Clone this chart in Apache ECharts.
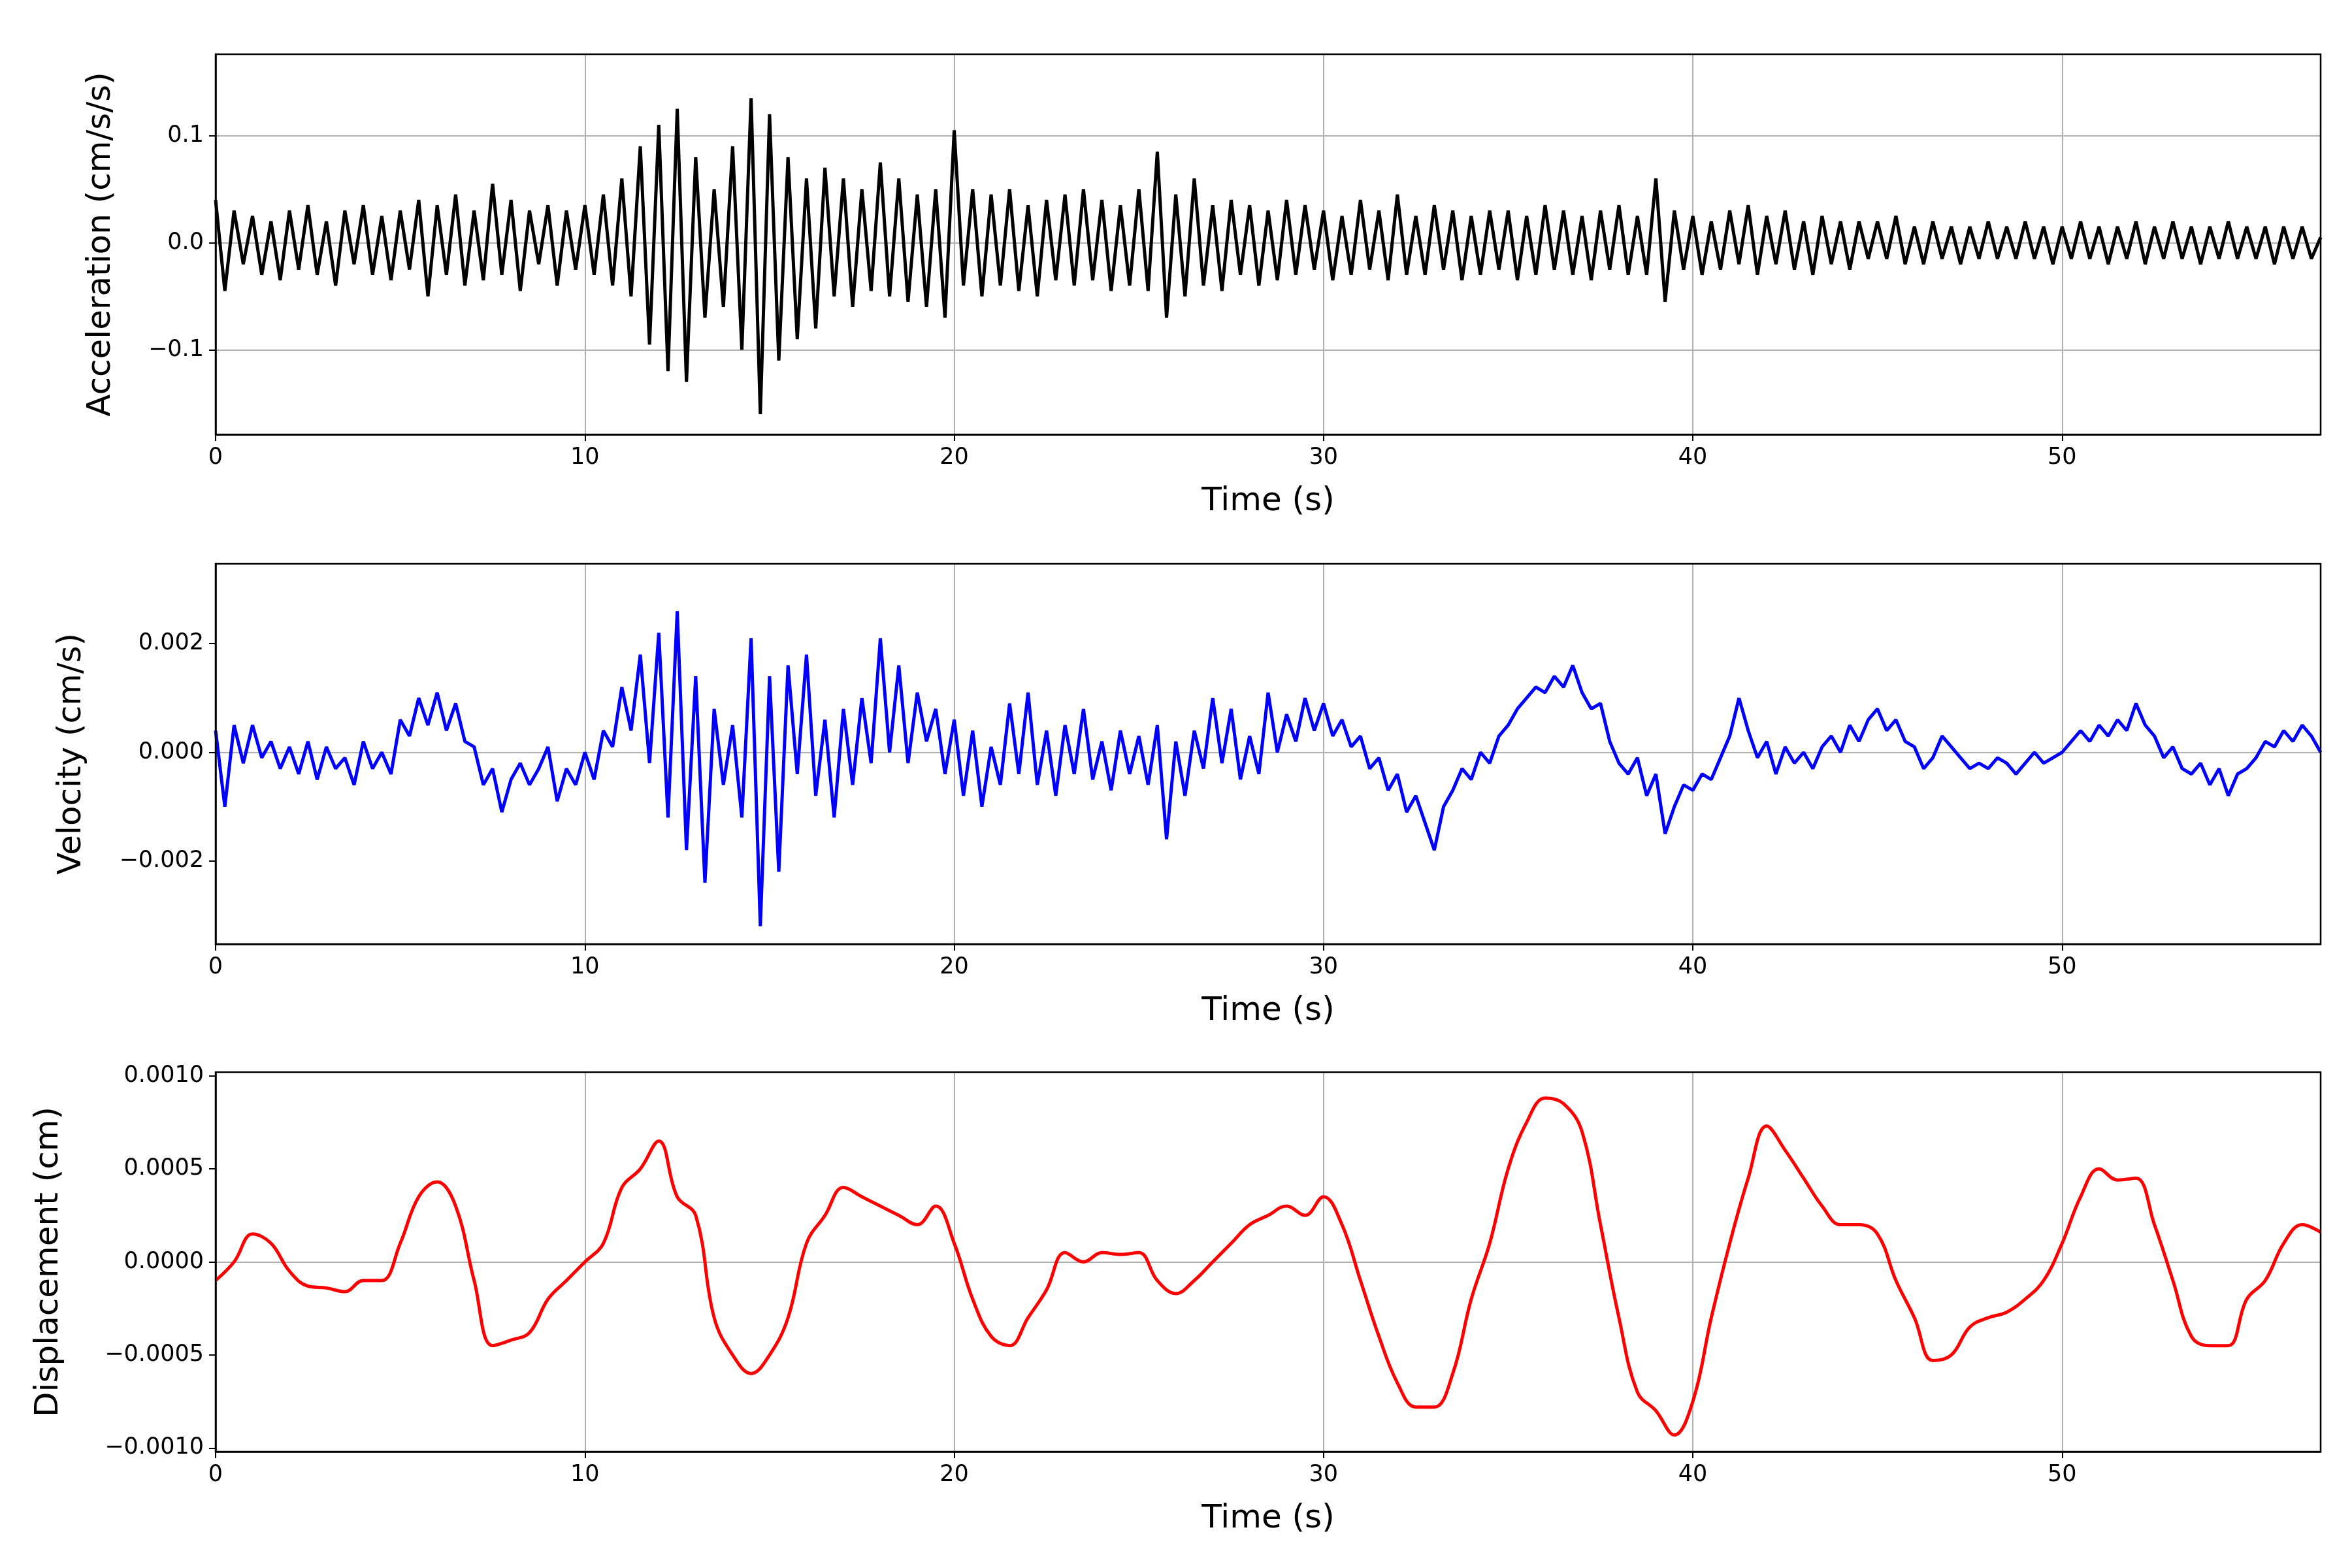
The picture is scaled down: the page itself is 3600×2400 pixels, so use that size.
<!DOCTYPE html>
<html>
<head>
<meta charset="utf-8">
<script src="https://cdn.jsdelivr.net/npm/echarts@6/dist/echarts.min.js"></script>
<style>
  html, body { margin: 0; padding: 0; background: #fff; }
  #chart { width: 3600px; height: 2400px; }
</style>
</head>
<body>
<div id="chart"></div>
<script>
// 采样间隔
const accStep = 0.25;
const velStep = 0.25;
const dispStep = 0.5;
const xTicks = [0, 10, 20, 30, 40, 50];
const accTicks = [-0.1, 0, 0.1];
const velTicks = [-0.002, 0, 0.002];
const dispTicks = [-0.001, -0.0005, 0, 0.0005, 0.001];

const accValues = [
  0.04,-0.045,0.03,-0.02,0.025,-0.03,0.02,-0.035,0.03,-0.025,0.035,-0.03,0.02,-0.04,0.03,-0.02,0.035,-0.03,0.025,-0.035,
  0.03,-0.025,0.04,-0.05,0.035,-0.03,0.045,-0.04,0.03,-0.035,0.055,-0.03,0.04,-0.045,0.03,-0.02,0.035,-0.04,0.03,-0.025,
  0.035,-0.03,0.045,-0.04,0.06,-0.05,0.09,-0.095,0.11,-0.12,0.125,-0.13,0.08,-0.07,0.05,-0.06,0.09,-0.1,0.135,-0.16,
  0.12,-0.11,0.08,-0.09,0.06,-0.08,0.07,-0.05,0.06,-0.06,0.05,-0.045,0.075,-0.05,0.06,-0.055,0.045,-0.06,0.05,-0.07,
  0.105,-0.04,0.05,-0.05,0.045,-0.04,0.05,-0.045,0.035,-0.05,0.04,-0.035,0.045,-0.04,0.05,-0.035,0.04,-0.045,0.035,-0.04,
  0.05,-0.045,0.085,-0.07,0.045,-0.05,0.06,-0.04,0.035,-0.045,0.04,-0.03,0.035,-0.04,0.03,-0.035,0.04,-0.03,0.035,-0.025,
  0.03,-0.035,0.025,-0.03,0.04,-0.025,0.03,-0.035,0.045,-0.03,0.025,-0.03,0.035,-0.025,0.03,-0.035,0.025,-0.03,0.03,-0.025,
  0.03,-0.035,0.025,-0.03,0.035,-0.025,0.03,-0.03,0.025,-0.035,0.03,-0.025,0.035,-0.03,0.025,-0.03,0.06,-0.055,0.03,-0.025,
  0.025,-0.03,0.02,-0.025,0.03,-0.02,0.035,-0.03,0.025,-0.02,0.03,-0.025,0.02,-0.03,0.025,-0.02,0.02,-0.025,0.02,-0.015,
  0.02,-0.015,0.025,-0.02,0.015,-0.02,0.02,-0.015,0.015,-0.02,0.015,-0.015,0.02,-0.015,0.015,-0.015,0.02,-0.015,0.015,-0.02,
  0.015,-0.015,0.02,-0.015,0.015,-0.02,0.015,-0.015,0.02,-0.02,0.015,-0.015,0.02,-0.015,0.015,-0.02,0.015,-0.015,0.02,-0.015,
  0.015,-0.015,0.015,-0.02,0.015,-0.015,0.015,-0.015,0.005
];

const velValues = [
  0.0004,-0.001,0.0005,-0.0002,0.0005,-0.0001,0.0002,-0.0003,0.0001,-0.0004,0.0002,-0.0005,0.0001,-0.0003,-0.0001,-0.0006,0.0002,-0.0003,0.0,-0.0004,
  0.0006,0.0003,0.001,0.0005,0.0011,0.0004,0.0009,0.0002,0.0001,-0.0006,-0.0003,-0.0011,-0.0005,-0.0002,-0.0006,-0.0003,0.0001,-0.0009,-0.0003,-0.0006,
  0.0,-0.0005,0.0004,0.0001,0.0012,0.0004,0.0018,-0.0002,0.0022,-0.0012,0.0026,-0.0018,0.0014,-0.0024,0.0008,-0.0006,0.0005,-0.0012,0.0021,-0.0032,
  0.0014,-0.0022,0.0016,-0.0004,0.0018,-0.0008,0.0006,-0.0012,0.0008,-0.0006,0.001,-0.0002,0.0021,0.0,0.0016,-0.0002,0.0011,0.0002,0.0008,-0.0004,
  0.0006,-0.0008,0.0004,-0.001,0.0001,-0.0006,0.0009,-0.0004,0.0011,-0.0006,0.0004,-0.0008,0.0005,-0.0004,0.0008,-0.0005,0.0002,-0.0007,0.0004,-0.0004,
  0.0003,-0.0006,0.0005,-0.0016,0.0002,-0.0008,0.0004,-0.0003,0.001,-0.0002,0.0008,-0.0005,0.0003,-0.0004,0.0011,0.0,0.0007,0.0002,0.001,0.0004,
  0.0009,0.0003,0.0006,0.0001,0.0003,-0.0003,-0.0001,-0.0007,-0.0004,-0.0011,-0.0008,-0.0013,-0.0018,-0.001,-0.0007,-0.0003,-0.0005,0.0,-0.0002,0.0003,
  0.0005,0.0008,0.001,0.0012,0.0011,0.0014,0.0012,0.0016,0.0011,0.0008,0.0009,0.0002,-0.0002,-0.0004,-0.0001,-0.0008,-0.0004,-0.0015,-0.001,-0.0006,
  -0.0007,-0.0004,-0.0005,-0.0001,0.0003,0.001,0.0004,-0.0001,0.0002,-0.0004,0.0001,-0.0002,0.0,-0.0003,0.0001,0.0003,0.0,0.0005,0.0002,0.0006,
  0.0008,0.0004,0.0006,0.0002,0.0001,-0.0003,-0.0001,0.0003,0.0001,-0.0001,-0.0003,-0.0002,-0.0003,-0.0001,-0.0002,-0.0004,-0.0002,0.0,-0.0002,-0.0001,
  0.0,0.0002,0.0004,0.0002,0.0005,0.0003,0.0006,0.0004,0.0009,0.0005,0.0003,-0.0001,0.0001,-0.0003,-0.0004,-0.0002,-0.0006,-0.0003,-0.0008,-0.0004,
  -0.0003,-0.0001,0.0002,0.0001,0.0004,0.0002,0.0005,0.0003,0.0
];

const dispValues = [
  -0.0001,0.0,0.00015,0.0001,-0.00005,-0.00013,-0.00014,-0.00016,-0.0001,-0.0001,
  0.0001,0.00035,0.00043,0.0003,-0.0001,-0.00045,-0.00042,-0.00038,-0.0002,-0.0001,
  0.0,0.0001,0.0004,0.0005,0.00065,0.00035,0.00025,-0.0003,-0.0005,-0.0006,
  -0.0005,-0.0003,0.0001,0.00025,0.0004,0.00035,0.0003,0.00025,0.0002,0.0003,
  0.0001,-0.0002,-0.0004,-0.00045,-0.0003,-0.00015,0.00005,0.0,0.00005,0.00004,
  0.00005,-0.0001,-0.00017,-0.0001,0.0,0.0001,0.0002,0.00025,0.0003,0.00025,
  0.00035,0.0002,-0.0001,-0.0004,-0.00065,-0.00078,-0.00078,-0.0006,-0.0002,0.0001,
  0.0005,0.00075,0.00088,0.00085,0.0007,0.0002,-0.0003,-0.0007,-0.0008,-0.00093,
  -0.00075,-0.0003,0.0001,0.00045,0.00073,0.0006,0.00045,0.0003,0.0002,0.0002,
  0.00015,-0.0001,-0.0003,-0.00053,-0.0005,-0.00035,-0.0003,-0.00027,-0.0002,-0.0001,
  0.0001,0.00035,0.0005,0.00044,0.00045,0.0002,-0.0001,-0.0004,-0.00045,-0.00045,
  -0.0002,-0.0001,0.0001,0.0002,0.00016
];

const fmt = (v, d) => (v < 0 ? "\u2212" : "") + Math.abs(v).toFixed(d);
const toPairs = (vals, step) => vals.map((v, i) => [i * step, v]);

const grids = [
  { left: 330, right: 48, top: 83, height: 582 },
  { left: 330, right: 48, top: 863, height: 582 },
  { left: 330, right: 48, top: 1641, height: 581 },
];
const yDefs = [
  { name: "Acceleration (cm/s/s)", min: -0.179, max: 0.176, ticks: accTicks, d: 1 },
  { name: "Velocity (cm/s)", min: -0.00353, max: 0.00347, ticks: velTicks, d: 3 },
  { name: "Displacement (cm)", min: -0.00102, max: 0.00102, ticks: dispTicks, d: 4 },
];
const font = "DejaVu Sans";

const myChart = echarts.init(document.querySelector("#chart"));
const option = {
  animation: false,
  backgroundColor: "#fff",
  grid: grids.map((g) => ({ ...g, show: true, borderColor: "#000", borderWidth: 2.5, backgroundColor: "transparent", z: 5 })),
  xAxis: grids.map((g, i) => ({
    type: "value",
    gridIndex: i,
    min: 0,
    max: 57,
    interval: 10,
    name: "Time (s)",
    nameLocation: "middle",
    nameGap: 78,
    nameTextStyle: { fontFamily: font, fontSize: 50, color: "#000" },
    axisLine: { show: true, onZero: false, lineStyle: { color: "#000", width: 2.5 } },
    axisTick: { show: true, length: 10, inside: false, lineStyle: { color: "#000", width: 2 } },
    axisLabel: { fontFamily: font, fontSize: 35, color: "#000", margin: 18, showMaxLabel: false },
    splitLine: { show: true, lineStyle: { color: "#b0b0b0", width: 2 } },
  })),
  yAxis: yDefs.map((y, i) => ({
    type: "value",
    gridIndex: i,
    min: y.min,
    max: y.max,
    name: y.name,
    nameLocation: "middle",
    nameGap: y.d === 1 ? 150 : y.d === 3 ? 195 : 230,
    nameTextStyle: { fontFamily: font, fontSize: 50, color: "#000" },
    axisLine: { show: true, onZero: false, lineStyle: { color: "#000", width: 2.5 } },
    axisTick: { show: true, length: 10, customValues: y.ticks, lineStyle: { color: "#000", width: 2 } },
    axisLabel: {
      fontFamily: font, fontSize: 35, color: "#000", margin: 18,
      customValues: y.ticks,
      formatter: (v) => fmt(v, y.d),
    },
    splitLine: { show: false },
  })),
  series: [
    { data: toPairs(accValues, accStep), color: "#000", width: 5 },
    { data: toPairs(velValues, velStep), color: "#0000ff", width: 5 },
    { data: toPairs(dispValues, dispStep), color: "#ff0000", width: 5 },
  ].map((s, i) => ({
    type: "line",
    xAxisIndex: i,
    yAxisIndex: i,
    data: s.data,
    showSymbol: false,
    smooth: i === 2 ? 0.4 : false,
    lineStyle: { color: s.color, width: s.width },
    // 网格横线
    markLine: {
      silent: true,
      symbol: "none",
      label: { show: false },
      lineStyle: { color: "#b0b0b0", width: 2, type: "solid" },
      data: yDefs[i].ticks.map((t) => ({ yAxis: t })),
      z: 0,
    },
    z: 3,
  })),
};
myChart.setOption(option);
</script>
</body>
</html>
